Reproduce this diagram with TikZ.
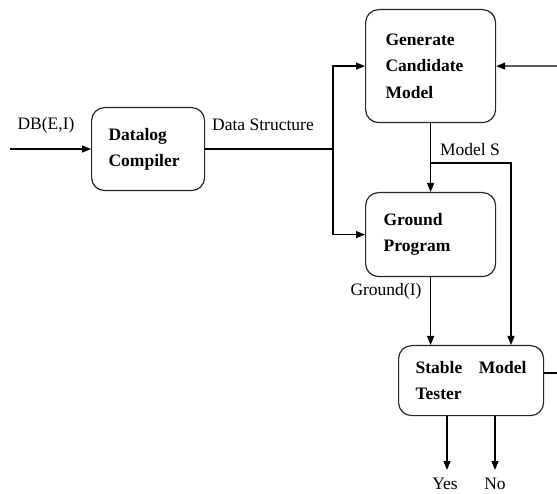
\documentclass[tikz,border=0pt]{standalone}
\usepackage{fontspec}
\setmainfont{Liberation Serif}
\usetikzlibrary{arrows.meta,calc}
\begin{document}
\begin{tikzpicture}[x=1pt,y=-1pt,
  line width=1.3pt,
  proc/.style={draw=black!85, line width=1.2pt, rounded corners=13pt, align=left, anchor=north west,
    font=\fontsize{17.5}{26.5}\selectfont\bfseries, inner ysep=0pt},
  lbl/.style={font=\fontsize{17.5}{20}\selectfont, inner sep=0pt},
  arr/.style={-{Triangle[length=9pt,width=7pt]}}]
\useasboundingbox (0,0) rectangle (557,494);
% boxes
\node[proc, minimum width=113pt, minimum height=83pt, inner xsep=17pt, text width=79pt] (dc) at (91,107) {Datalog\\Compiler};
\node[proc, minimum width=130pt, minimum height=113pt, inner xsep=20pt, text width=90pt] (gcm) at (365,9) {Generate\\Candidate\\Model};
\node[proc, minimum width=130pt, minimum height=84pt, inner xsep=18pt, text width=94pt] (gp) at (365,192) {Ground\\Program};
\node[proc, minimum width=145pt, minimum height=70pt, inner xsep=17pt, text width=111pt] (smt) at (398,345) {Stable\hfill Model\\Tester};
% coordinates
\coordinate (in) at (10,149);
\coordinate (j1) at (333,149);
\coordinate (ms) at (430,163);
\coordinate (msr) at (511,163);
\coordinate (fb1) at (557,373);
\coordinate (fb2) at (557,66);
\coordinate (yes) at (447,470);
\coordinate (no) at (495,470);
% connectors
\draw[arr] (in) -- (dc.west |- in);
\draw (dc.east |- j1) -- (j1);
\draw[arr] (j1) |- (gcm.west);
\draw[arr] (j1) |- (gp.west);
\draw[arr] (gcm.south) -- (gp.north);
\draw[arr] (ms) -- (msr) -- (msr |- smt.north);
\draw[arr] (gp.south) -- (gp.south |- smt.north);
\draw (fb1 -| smt.east) -- (fb1);
\draw[arr] (fb2) -- (gcm.east);
\draw[arr] (yes |- smt.south) -- (yes);
\draw[arr] (no |- smt.south) -- (no);
% labels
\node[lbl] (l1) at (46,125) {DB(E,I)};
\node[lbl] (l2) at (263,125) {Data Structure};
\node[lbl] (l3) at (470,150) {Model S};
\node[lbl] (l4) at (386,291) {Ground(I)};
\node[lbl] (l5) at (445,484) {Yes};
\node[lbl] (l6) at (495,484) {No};
\end{tikzpicture}
\end{document}
